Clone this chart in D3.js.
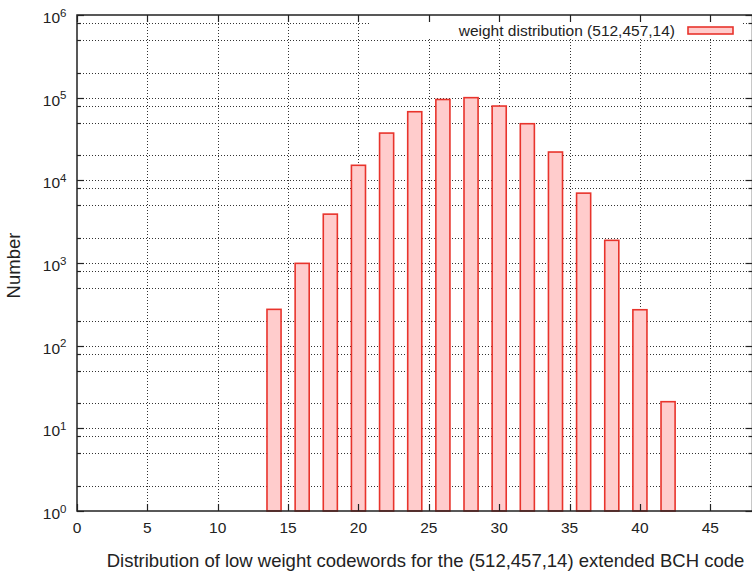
<!DOCTYPE html>
<html>
<head>
<meta charset="utf-8">
<script src="https://cdn.jsdelivr.net/npm/d3@7"></script>
<style>
  html, body { margin: 0; padding: 0; background: #fff; }
  svg { display: block; font-family: "Liberation Sans", Arial, Helvetica, sans-serif; }
</style>
</head>
<body>
<svg id="chart" width="752" height="574"></svg>
<script>
// Codeword weights and the number of codewords of each weight
const weights = [14, 16, 18, 20, 22, 24, 26, 28, 30, 32, 34, 36, 38, 40, 42];
const counts  = [275, 990, 3900, 15200, 37300, 67600, 95000, 100000, 79200, 48400, 22000, 7000, 1880, 272, 21];

// Axis ticks
const xTicks = [0, 5, 10, 15, 20, 25, 30, 35, 40, 45];
const yExponents = [0, 1, 2, 3, 4, 5, 6];
const yMinorFactors = [2, 5, 8];

const seriesLabel = "weight distribution (512,457,14)";
const xTitle = "Distribution of low weight codewords for the (512,457,14) extended BCH code";
const yTitle = "Number";

const svg = d3.select("#chart");
const plot = { left: 77, right: 752.5, top: 15, bottom: 511 };

const x = d3.scaleLinear().domain([0, 48]).range([plot.left, plot.right]);
const y = d3.scaleLog().domain([1, 1e6]).range([plot.bottom, plot.top]);

const majorY = yExponents.map(e => Math.pow(10, e));
const minorY = [];
yExponents.slice(0, -1).forEach(e => yMinorFactors.forEach(f => minorY.push(f * Math.pow(10, e))));

const gridColor = "#333";
const grid = svg.append("g")
  .attr("stroke", gridColor)
  .attr("stroke-width", 1)
  .attr("stroke-dasharray", "1,2")
  .attr("fill", "none");

// horizontal grid: decades plus minor lines
grid.selectAll("line.h")
  .data(majorY.concat(minorY).filter(v => v > 1 && v < 1e6))
  .join("line")
  .attr("class", "h")
  .attr("x1", plot.left).attr("x2", plot.right)
  .attr("y1", d => Math.round(y(d)) + 0.5)
  .attr("y2", d => Math.round(y(d)) + 0.5);

// vertical grid at major x ticks
grid.selectAll("line.v")
  .data(xTicks.filter(v => v > 0))
  .join("line")
  .attr("class", "v")
  .attr("x1", d => Math.round(x(d)) + 0.5)
  .attr("x2", d => Math.round(x(d)) + 0.5)
  .attr("y1", plot.top).attr("y2", plot.bottom);

// bars
const barFill = "#ffcccc";
const barStroke = "#e8342c";
const boxWidth = 1;
svg.append("g")
  .selectAll("rect")
  .data(weights.map((w, i) => ({ w, c: counts[i] })))
  .join("rect")
  .attr("x", d => x(d.w - boxWidth / 2))
  .attr("width", d => x(d.w + boxWidth / 2) - x(d.w - boxWidth / 2))
  .attr("y", d => y(d.c))
  .attr("height", d => y(1) - y(d.c))
  .attr("fill", barFill)
  .attr("stroke", barStroke)
  .attr("stroke-width", 1.6);

// legend with opaque background
const legend = svg.append("g");
legend.append("rect")
  .attr("x", 370).attr("y", 19)
  .attr("width", 371).attr("height", 20)
  .attr("fill", "#fff");
legend.append("text")
  .attr("x", 675).attr("y", 35.5)
  .attr("text-anchor", "end")
  .attr("font-size", 15.5)
  .attr("fill", "#222")
  .text(seriesLabel);
legend.append("rect")
  .attr("x", 688).attr("y", 27)
  .attr("width", 45).attr("height", 7)
  .attr("fill", barFill)
  .attr("stroke", barStroke)
  .attr("stroke-width", 1.6);

// frame
svg.append("rect")
  .attr("x", plot.left).attr("y", plot.top)
  .attr("width", plot.right - plot.left)
  .attr("height", plot.bottom - plot.top)
  .attr("fill", "none")
  .attr("stroke", "#222")
  .attr("stroke-width", 1.5);

// tick marks on all four sides
const ticks = svg.append("g").attr("stroke", "#222").attr("stroke-width", 1.2);
const majorLen = 7, minorLen = 4;
majorY.forEach(v => {
  const yy = Math.round(y(v)) + 0.5;
  ticks.append("line").attr("x1", plot.left).attr("x2", plot.left + majorLen).attr("y1", yy).attr("y2", yy);
  ticks.append("line").attr("x1", plot.right).attr("x2", plot.right - majorLen).attr("y1", yy).attr("y2", yy);
});
minorY.forEach(v => {
  const yy = Math.round(y(v)) + 0.5;
  ticks.append("line").attr("x1", plot.left).attr("x2", plot.left + minorLen).attr("y1", yy).attr("y2", yy);
  ticks.append("line").attr("x1", plot.right).attr("x2", plot.right - minorLen).attr("y1", yy).attr("y2", yy);
});
xTicks.forEach(v => {
  const xx = Math.round(x(v)) + 0.5;
  ticks.append("line").attr("x1", xx).attr("x2", xx).attr("y1", plot.bottom).attr("y2", plot.bottom - majorLen);
  ticks.append("line").attr("x1", xx).attr("x2", xx).attr("y1", plot.top).attr("y2", plot.top + majorLen);
});

// x tick labels
svg.append("g")
  .selectAll("text")
  .data(xTicks)
  .join("text")
  .attr("x", d => x(d))
  .attr("y", 533)
  .attr("text-anchor", "middle")
  .attr("font-size", 15.5)
  .attr("fill", "#222")
  .text(d => d);

// y tick labels as powers of ten
const yLabels = svg.append("g");
yExponents.forEach(e => {
  const t = yLabels.append("text")
    .attr("x", 66.5)
    .attr("y", y(Math.pow(10, e)) + 8)
    .attr("text-anchor", "end")
    .attr("font-size", 15.5)
    .attr("fill", "#222");
  t.append("tspan").text("10");
  t.append("tspan").attr("dy", -6.5).attr("font-size", 11.5).text(e);
});

// axis titles
svg.append("text")
  .attr("x", 425.5).attr("y", 567)
  .attr("text-anchor", "middle")
  .attr("font-size", 18.5)
  .attr("fill", "#222")
  .text(xTitle);

svg.append("text")
  .attr("transform", "translate(20,265.5) rotate(-90)")
  .attr("text-anchor", "middle")
  .attr("font-size", 18.5)
  .attr("fill", "#222")
  .text(yTitle);
</script>
</body>
</html>
